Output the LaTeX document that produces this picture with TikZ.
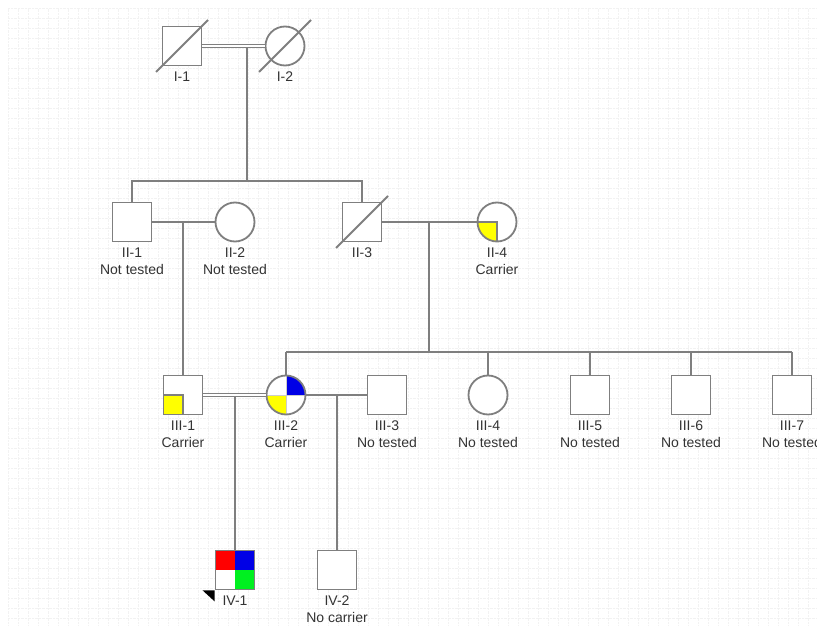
\documentclass[tikz,border=0pt]{standalone}
\usepackage{fontspec}
\setmainfont{Liberation Sans}
\usetikzlibrary{positioning,calc}

\definecolor{lngray}{HTML}{7F7F7F}
\definecolor{qblue}{HTML}{0000E6}
\definecolor{qgreen}{HTML}{00F020}
\definecolor{qyellow}{HTML}{FFFF00}

\tikzset{
  ln/.style={draw=lngray, line width=1.8pt},
  wed/.style={draw=lngray, line width=1.4pt, double=white, double distance=2pt},
  male/.style={ln, rectangle, minimum size=39pt, inner sep=0pt, fill=white},
  female/.style={ln, circle, minimum size=39pt, inner sep=0pt, fill=white},
  lbl/.style={align=center, inner sep=0pt, text=black!80,
    font=\fontsize{14}{17}\selectfont},
  carrier/.style={path picture={
    \fill[qyellow] (path picture bounding box.center) rectangle (path picture bounding box.south west);
    \draw[lngray, line width=1.4pt] (path picture bounding box.west) -- (path picture bounding box.center) -- (path picture bounding box.south);}},
}

\begin{document}
\begin{tikzpicture}[x=1pt,y=1pt]
  \useasboundingbox (0,0) rectangle (817,625);
  % background grid
  \foreach \gx in {8,18,...,817}{\draw[black!5, densely dotted] (\gx,0) -- (\gx,617);}
  \foreach \gy in {7,17,...,617}{\draw[black!5, densely dotted] (8,\gy) -- (817,\gy);}

  % generation I
  \node[male] (i1) at (182,579) {};
  \node[female] (i2) at (285,579) {};
  \draw[wed] (i1) -- (i2);
  \coordinate (m1) at (247,577);
  \coordinate (s1) at (247,444);

  % generation II
  \node[male] (ii1) at (132,403) {};
  \node[female] (ii2) at (235,403) {};
  \node[male] (ii3) at (362,403) {};
  \node[female, carrier] (ii4) at (497,403) {};
  \draw[ln] (m1) -- (s1);
  \draw[ln] (ii1) |- (s1) -| (ii3);
  \draw[ln] (ii1) -- (ii2);
  \draw[ln] (ii3) -- (ii4);
  \coordinate (m2) at (183,403);
  \coordinate (m3) at (429,403);
  \coordinate (s3) at (429,273);

  % generation III
  \node[male, carrier] (iii1) at (183,230) {};
  \node[female, path picture={
    \fill[qyellow] (path picture bounding box.center) rectangle (path picture bounding box.south west);
    \fill[qblue] (path picture bounding box.center) rectangle (path picture bounding box.north east);
    \draw[black!20, line width=0.8pt] (path picture bounding box.west) -- (path picture bounding box.east)
      (path picture bounding box.north) -- (path picture bounding box.south);}] (iii2) at (286,230) {};
  \node[male] (iii3) at (387,230) {};
  \node[female] (iii4) at (488,230) {};
  \node[male] (iii5) at (590,230) {};
  \node[male] (iii6) at (691,230) {};
  \node[male] (iii7) at (792,230) {};
  \draw[ln] (m2) -- (iii1);
  \draw[ln] (m3) -- (s3);
  \draw[ln] (iii2 |- s3) -- (iii7 |- s3);
  \foreach \n in {iii2,iii4,iii5,iii6,iii7}{\draw[ln] (\n) -- (\n |- s3);}
  \draw[wed] (iii1) -- (iii2);
  \draw[ln] (iii2) -- (iii3);
  \coordinate (m4) at (235,228);
  \coordinate (m5) at (337,230);

  % generation IV
  \node[male, path picture={
    \fill[red] (path picture bounding box.center) rectangle (path picture bounding box.north west);
    \fill[qblue] (path picture bounding box.center) rectangle (path picture bounding box.north east);
    \fill[qgreen] (path picture bounding box.center) rectangle (path picture bounding box.south east);}] (iv1) at (235,55) {};
  \node[male] (iv2) at (337,55) {};
  \draw[ln] (m4) -- (iv1);
  \draw[ln] (m5) -- (iv2);
  \fill (iv1.south west) -- ++(-12,0) -- ++(12,-11) -- cycle;

  % deceased
  \foreach \n in {i1,i2,ii3}{\draw[ln] ($(\n)+(-26,-26)$) -- ($(\n)+(26,26)$);}

  % labels
  \foreach \n/\t in {i1/I-1, i2/I-2, ii1/{II-1\\Not tested}, ii2/{II-2\\Not tested},
      ii3/II-3, ii4/{II-4\\Carrier}, iii1/{III-1\\Carrier}, iii2/{III-2\\Carrier},
      iii3/{III-3\\No tested}, iii4/{III-4\\No tested}, iii5/{III-5\\No tested},
      iii6/{III-6\\No tested}, iii7/{III-7\\No tested}, iv1/IV-1, iv2/{IV-2\\No carrier}}
    {\node[lbl, below=5pt of \n] (\n-l) {\t};}
\end{tikzpicture}
\end{document}
